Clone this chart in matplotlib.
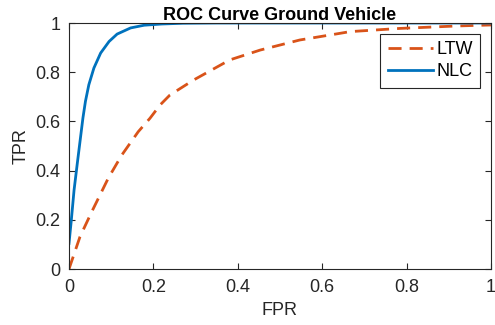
"""
ROC curve for ground vehicle: LTW vs NLC
"""

import matplotlib
matplotlib.use("Agg")
import matplotlib.pyplot as plt

# values
fpr_ltw = [0, 0.026, 0.054, 0.093, 0.125, 0.164, 0.192, 0.216, 0.239, 0.295,
           0.381, 0.453, 0.547, 0.642, 0.666, 0.784, 0.919, 1.0]
tpr_ltw = [0, 0.131, 0.233, 0.369, 0.463, 0.558, 0.613, 0.667, 0.707, 0.768,
           0.850, 0.890, 0.931, 0.958, 0.965, 0.978, 0.988, 0.992]

fpr_nlc = [0, 0.0055, 0.012, 0.0197, 0.028, 0.033, 0.039, 0.047, 0.059, 0.075,
           0.095, 0.114, 0.146, 0.178, 0.22, 0.27, 0.35, 0.5, 1.0]
tpr_nlc = [0.104, 0.199, 0.321, 0.43, 0.545, 0.614, 0.682, 0.749, 0.817, 0.878,
           0.925, 0.955, 0.98, 0.991, 0.996, 0.999, 1.0, 1.0, 1.0]

ticks = [0, 0.2, 0.4, 0.6, 0.8, 1]
tick_labels = ["0", "0.2", "0.4", "0.6", "0.8", "1"]

plt.rcParams['font.family'] = ['Liberation Sans', 'DejaVu Sans']
dark = '#262626'

fig = plt.figure(figsize=(4.95, 3.25), dpi=100)
ax = fig.add_axes([0.1394, 0.1723, 0.8525, 0.7569])

ax.plot(fpr_ltw, tpr_ltw, color='#D95319', linewidth=2,
        linestyle=(0, (4.7, 2.9)), label='LTW')
ax.plot(fpr_nlc, tpr_nlc, color='#0072BD', linewidth=2, label='NLC')

ax.set_xlim(0, 1)
ax.set_ylim(0, 1)
ax.set_xticks(ticks)
ax.set_xticklabels(tick_labels)
ax.set_yticks(ticks)
ax.set_yticklabels(tick_labels)
ax.tick_params(direction='in', top=True, right=True, length=4, width=0.8,
               labelsize=13, colors=dark, pad=6)
ax.tick_params(axis='x', pad=7.5)
for s in ax.spines.values():
    s.set_color(dark)
    s.set_linewidth(0.8)

ax.set_xlabel('FPR', fontsize=13, color=dark, labelpad=4)
ax.set_ylabel('TPR', fontsize=13, color=dark, labelpad=4)
ax.set_title('ROC Curve Ground Vehicle', fontsize=13, fontweight='bold',
             pad=2)

leg = ax.legend(loc='upper right', fontsize=13, handlelength=2.5,
                fancybox=False, framealpha=1, borderaxespad=0.6,
                handletextpad=0.2, borderpad=0.4, labelspacing=0.3)
leg.get_frame().set_edgecolor(dark)
leg.get_frame().set_linewidth(0.8)

fig.savefig("out.png", dpi=100)
plt.close(fig)
